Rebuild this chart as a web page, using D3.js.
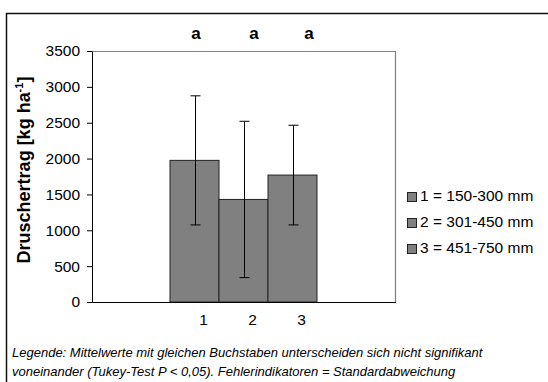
<!DOCTYPE html>
<html>
<head>
<meta charset="utf-8">
<script src="https://cdn.jsdelivr.net/npm/d3@7"></script>
<style>
  body { margin: 0; background: #fff; }
  svg { font-family: "Liberation Sans", Arial, sans-serif; }
</style>
</head>
<body>
<div id="chart"></div>
<script>
const categories = ["1", "2", "3"];
const means = [1975, 1430, 1770];
const sds = [900, 1090, 695];
const letters = ["a", "a", "a"];
const legendLabels = ["1 = 150-300 mm", "2 = 301-450 mm", "3 = 451-750 mm"];
const yTicks = [0, 500, 1000, 1500, 2000, 2500, 3000, 3500];

const width = 548, height = 382;
const plot = { left: 92, top: 51, right: 395, bottom: 302 };

const svg = d3.select("#chart").append("svg")
  .attr("width", width)
  .attr("height", height);

// outer frame, runs off the right and bottom
svg.append("rect")
  .attr("x", 6.5).attr("y", 13.5)
  .attr("width", 600).attr("height", 400)
  .style("fill", "none")
  .style("stroke", "#111")
  .style("stroke-width", 1.5);

const y = d3.scaleLinear().domain([0, 3500]).range([plot.bottom, plot.top]);
const x = d3.scaleBand().domain(categories).range([170, 317]).padding(0);

// plot area border top/right
svg.append("path")
  .attr("d", `M${plot.left},${plot.top + 0.5}H${plot.right + 0.5}V${plot.bottom}`)
  .style("fill", "none")
  .style("stroke", "#808080")
  .style("stroke-width", 1.2);

const bars = svg.append("g");
bars.selectAll("rect")
  .data(means)
  .enter()
  .append("rect")
  .attr("x", (d, i) => x(categories[i]))
  .attr("y", d => y(d))
  .attr("width", x.bandwidth())
  .attr("height", d => y(0) - y(d))
  .style("fill", "#808080")
  .style("stroke", "#222")
  .style("stroke-width", 1);

// error bars
const err = svg.append("g").style("stroke", "#000").style("stroke-width", 1);
means.forEach((m, i) => {
  const cx = Math.round(x(categories[i]) + x.bandwidth() / 2) + 0.5;
  const hi = y(m + sds[i]), lo = y(m - sds[i]);
  err.append("line").attr("x1", cx).attr("x2", cx).attr("y1", hi).attr("y2", lo);
  err.append("line").attr("x1", cx - 5).attr("x2", cx + 5).attr("y1", hi).attr("y2", hi);
  err.append("line").attr("x1", cx - 5).attr("x2", cx + 5).attr("y1", lo).attr("y2", lo);
});

// y axis
const yAxis = svg.append("g")
  .attr("transform", `translate(${plot.left},0)`)
  .call(d3.axisLeft(y).tickValues(yTicks).tickFormat(d3.format("d"))
    .tickSize(5).tickSizeOuter(0).tickPadding(7));
yAxis.select(".domain").style("stroke", "#000");
yAxis.selectAll("text").style("font-size", "15.5px").style("fill", "#000");

// x axis
svg.append("line")
  .attr("x1", plot.left).attr("x2", plot.right + 1)
  .attr("y1", plot.bottom + 0.5).attr("y2", plot.bottom + 0.5)
  .style("stroke", "#000");

svg.append("g").selectAll("text")
  .data(categories)
  .enter()
  .append("text")
  .attr("x", d => x(d) + x.bandwidth() / 2 + 9)
  .attr("y", 325)
  .attr("text-anchor", "middle")
  .style("font-size", "15.5px")
  .text(d => d);

// significance letters
const letterX = [196, 254, 309];
svg.append("g").selectAll("text")
  .data(letters)
  .enter()
  .append("text")
  .attr("x", (d, i) => letterX[i])
  .attr("y", 39)
  .attr("text-anchor", "middle")
  .style("font-size", "17px")
  .style("font-weight", "bold")
  .text(d => d);

// y label
const yl = svg.append("text")
  .attr("transform", "translate(30,170) rotate(-90)")
  .attr("text-anchor", "middle")
  .style("font-size", "18px")
  .style("font-weight", "bold");
yl.append("tspan").text("Druschertrag [kg ha");
yl.append("tspan").attr("dy", -7).style("font-size", "11px").text("-1");
yl.append("tspan").attr("dy", 7).text("]");

// legend
const leg = svg.append("g");
legendLabels.forEach((t, i) => {
  const g = leg.append("g").attr("transform", `translate(407,${192 + i * 26})`);
  g.append("rect").attr("x", 0.5).attr("y", 0.5).attr("width", 9).attr("height", 9)
    .style("fill", "#808080").style("stroke", "#222");
  g.append("text").attr("x", 13).attr("y", 9).style("font-size", "15.5px").text(t);
});

// footnote
const notes = [
  "Legende: Mittelwerte mit gleichen Buchstaben unterscheiden sich nicht signifikant",
  "voneinander (Tukey-Test P < 0,05). Fehlerindikatoren = Standardabweichung"
];
svg.append("g").selectAll("text")
  .data(notes)
  .enter()
  .append("text")
  .attr("x", 12)
  .attr("y", (d, i) => 357 + i * 19)
  .style("font-size", "13px")
  .style("font-style", "italic")
  .text(d => d);
</script>
</body>
</html>
